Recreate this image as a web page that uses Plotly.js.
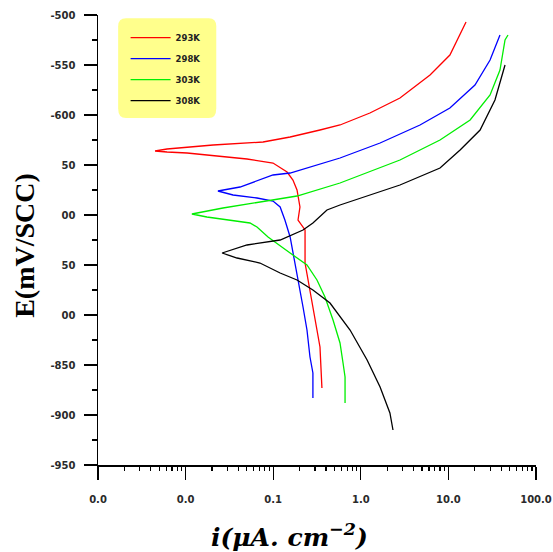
<!DOCTYPE html>
<html>
<head>
<meta charset="utf-8">
<script src="https://cdn.plot.ly/plotly-3.0.1.min.js"></script>
<style>html,body{margin:0;padding:0;background:#fff;}#chart{width:553px;height:552px;}</style>
</head>
<body>
<div id="chart"></div>
<script>
// Series names
const seriesNames = ["293K", "298K", "303K", "308K"];
const seriesColors = ["#ff0000", "#0000ff", "#00ee00", "#000000"];

// 293K: current density (µA/cm²) and potential (mV/SCC)
const i293 = [0.360,0.342,0.316,0.284,0.263,0.231,0.231,0.219,0.192,0.202,0.187,0.168,0.144,0.0995,0.0849,0.0502,0.0228,0.0104,0.00614,0.00448,0.00614,0.0206,0.0766,0.156,0.342,0.579,1.27,2.80,6.17,10.4,15.9];
const E293 = [-873,-832,-815,-792,-772,-748,-715,-712,-705,-692,-675,-665,-657,-648,-647,-644,-641,-638,-637,-636,-634,-630,-627,-622,-615,-610,-598,-583,-560,-540,-507];

// 298K
const i298 = [0.284,0.284,0.263,0.243,0.219,0.192,0.168,0.156,0.136,0.120,0.0995,0.0653,0.0348,0.0234,0.0418,0.0995,0.156,0.579,1.66,4.74,10.4,20.1,29.9,38.8];
const E298 = [-883,-858,-842,-815,-792,-765,-738,-722,-705,-692,-686,-683,-680,-676,-672,-660,-658,-643,-628,-610,-593,-570,-545,-520];

// 303K
const i303 = [0.661,0.661,0.627,0.579,0.482,0.390,0.316,0.243,0.156,0.0873,0.0653,0.0543,0.0175,0.0118,0.0267,0.0995,0.187,0.579,2.80,8.02,17.7,29.9,38.8,44.3,47.9];
const E303 = [-888,-862,-848,-828,-805,-782,-765,-750,-738,-722,-712,-708,-702,-699,-693,-685,-681,-668,-645,-625,-605,-580,-555,-525,-520];

// 308K
const i308 = [2.33,2.15,1.66,1.18,0.754,0.445,0.284,0.187,0.120,0.0706,0.0387,0.0261,0.0502,0.120,0.219,0.284,0.411,0.579,2.80,8.02,13.6,23.0,34.0,44.3];
const E308 = [-915,-898,-872,-845,-815,-788,-775,-765,-758,-748,-743,-738,-730,-725,-715,-708,-695,-690,-670,-653,-635,-615,-585,-550];

// Y tick values and labels as shown
const yTickVals = [-500,-550,-600,-650,-700,-750,-800,-850,-900,-950];
const yTickText = ["-500","-550","-600","50","00","50","00","-850","-900","-950"];

// Titles
const xTitle = "<b><i>i(μA. cm<sup>−2</sup>)</i></b>";
const yTitle = "<b>E(mV/SCC)</b>";

const xs = [i293, i298, i303, i308];
const ys = [E293, E298, E303, E308];

const traces = xs.map((x, k) => ({
  x: x, y: ys[k], type: "scatter", mode: "lines",
  name: seriesNames[k], legendgroup: "g" + k,
  line: {color: seriesColors[k], width: 1.3}
}));

const tickFont = {family: "DejaVu Sans, sans-serif", size: 10, color: "#2a2a2a", weight: "bold"};

const layout = {
  width: 553, height: 552,
  margin: {l: 98, r: 17, t: 15, b: 87},
  paper_bgcolor: "#ffffff", plot_bgcolor: "#ffffff",
  showlegend: true,
  legend: {
    x: 0.063, y: 0.982, xanchor: "left", yanchor: "top",
    bgcolor: "rgba(0,0,0,0)", borderwidth: 0,
    font: {family: "DejaVu Sans, sans-serif", size: 8.5, color: "#222", weight: "bold"},
    traceorder: "grouped", tracegroupgap: 2, itemwidth: 40
  },
  xaxis: {
    type: "log", range: [-3, 2], dtick: 1, tickformat: ".1f",
    showline: true, linecolor: "#000", linewidth: 1.5,
    ticks: "outside", ticklen: 13, tickwidth: 1.3, tickcolor: "#000",
    minor: {ticks: "outside", ticklen: 4, tickwidth: 1.2, tickcolor: "#000", dtick: "D1", showgrid: false},
    showgrid: false, zeroline: false,
    tickfont: tickFont, ticklabelstandoff: 11
  },
  yaxis: {
    range: [-950, -500],
    tickmode: "array", tickvals: yTickVals, ticktext: yTickText,
    showline: true, linecolor: "#000", linewidth: 1.5,
    ticks: "outside", ticklen: 13, tickwidth: 1.3, tickcolor: "#000",
    minor: {ticks: "outside", ticklen: 5, tickwidth: 1.2, tickcolor: "#000", dtick: 25, tick0: -500, showgrid: false},
    showgrid: false, zeroline: false,
    tickfont: tickFont, ticklabelstandoff: 6
  },
  annotations: [
    {text: xTitle, xref: "paper", yref: "paper", x: 0.438, y: -0.156, xanchor: "center", yanchor: "middle",
     showarrow: false, font: {family: "DejaVu Serif, serif", size: 25, color: "#000"}},
    {text: yTitle, xref: "paper", yref: "paper", x: -0.167, y: 0.489, xanchor: "center", yanchor: "middle",
     textangle: -90, showarrow: false, font: {family: "Liberation Serif, Times New Roman, serif", size: 28, color: "#000"}}
  ],
  shapes: [
    {type: "path", xref: "paper", yref: "paper", layer: "below",
     path: "M 0.064 0.993 L 0.253 0.993 Q 0.27 0.993 0.27 0.975 L 0.27 0.793 Q 0.27 0.771 0.253 0.771 L 0.064 0.771 Q 0.046 0.771 0.046 0.793 L 0.046 0.975 Q 0.046 0.993 0.064 0.993 Z",
     fillcolor: "#ffff8c", line: {width: 0}},
    {type: "line", xref: "paper", yref: "paper", x0: -0.03, x1: 0, y0: 0, y1: 0, line: {color: "#000", width: 1.5}},
    {type: "line", xref: "paper", yref: "paper", x0: 0, x1: 0, y0: 0, y1: -0.014, line: {color: "#000", width: 1.5}}
  ]
};

Plotly.newPlot("chart", traces, layout, {displayModeBar: false, staticPlot: true});
</script>
</body>
</html>
